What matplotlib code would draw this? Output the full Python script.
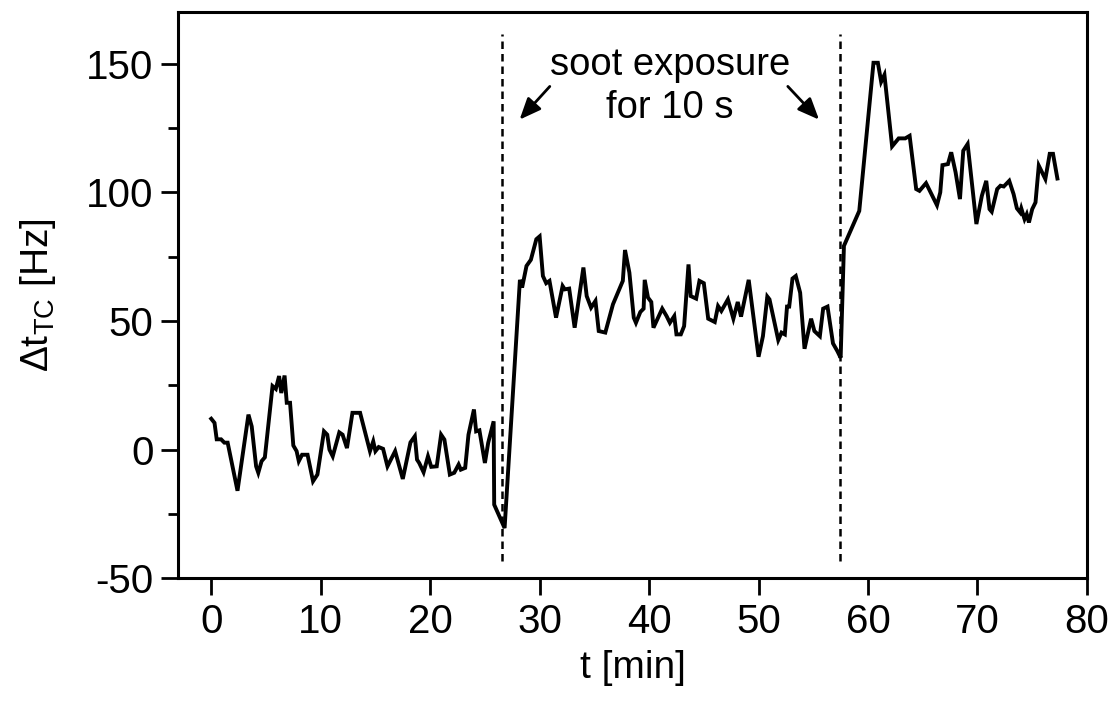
import matplotlib
matplotlib.use('Agg')
import matplotlib.pyplot as plt
from matplotlib.ticker import MultipleLocator

plt.rcParams['font.family'] = ['Liberation Sans', 'DejaVu Sans']
plt.rcParams['mathtext.fontset'] = 'custom'
plt.rcParams['mathtext.rm'] = 'Liberation Sans'
plt.rcParams['mathtext.it'] = 'Liberation Sans'
plt.rcParams['axes.unicode_minus'] = False

# time [min] and frequency shift [Hz]
t_min = [0.0, 0.3, 0.5, 0.9, 1.2, 1.5, 2.4, 3.4, 3.7, 4.1, 4.3, 4.6, 4.9,
         5.6, 5.9, 6.2, 6.4, 6.7, 6.9, 7.2, 7.5, 7.8, 8.0, 8.3, 8.8, 9.3,
         9.7, 10.3, 10.6, 10.8, 11.1, 11.7, 12.0, 12.4, 12.9, 13.6, 14.5,
         14.8, 15.0, 15.3, 15.7, 16.1, 16.8, 17.5, 18.2, 18.6, 18.8, 19.0,
         19.4, 19.8, 20.1, 20.6, 21.0, 21.3, 21.8, 22.2, 22.6, 22.8, 23.2,
         23.5, 24.0, 24.2, 24.5, 25.0, 25.3, 25.8, 25.85, 26.8, 28.2, 28.4,
         28.8, 29.2, 29.7, 30.0, 30.3, 30.6, 30.9, 31.5, 32.1, 32.3, 32.7,
         33.2, 34.0, 34.3, 34.7, 35.1, 35.4, 36.0, 36.7, 37.6, 37.8, 38.2,
         38.6, 38.8, 39.2, 39.5, 39.6, 39.9, 40.2, 40.4, 41.2, 41.6, 41.9,
         42.3, 42.5, 42.9, 43.2, 43.6, 43.8, 44.3, 44.6, 45.0, 45.4, 46.0,
         46.3, 46.6, 47.2, 47.7, 48.1, 48.4, 49.1, 50.0, 50.4, 50.8, 51.0,
         51.8, 52.1, 52.4, 52.6, 52.8, 53.1, 53.4, 53.8, 54.2, 54.8, 55.1,
         55.6, 55.9, 56.3, 56.8, 57.2, 57.5, 57.8, 59.2, 60.5, 60.9, 61.2,
         61.5, 62.2, 62.8, 63.4, 63.8, 64.4, 64.7, 65.3, 66.3, 66.6, 66.8,
         67.3, 67.6, 68.0, 68.4, 68.7, 69.1, 69.9, 70.4, 70.8, 71.1, 71.3,
         71.8, 72.1, 72.4, 72.9, 73.3, 73.6, 73.9, 74.0, 74.3, 74.5, 74.7,
         75.0, 75.3, 75.6, 76.2, 76.6, 76.9, 77.3]
dt_tc = [12.0, 10.4, 4.0, 4.0, 2.7, 2.7, -16.0, 13.6, 9.0, -6.5, -9.0, -4.5,
         -3.0, 24.7, 23.6, 28.6, 22.0, 28.8, 18.2, 18.2, 1.6, -0.6, -4.5,
         -2.0, -2.0, -12.3, -9.7, 7.1, 5.8, 0.0, -2.6, 6.7, 5.8, 0.6, 14.3,
         14.3, -0.6, 3.2, -0.6, 1.0, 0.3, -6.5, -0.6, -11.4, 2.8, 5.2, -3.9,
         -5.2, -8.8, -2.6, -6.7, -6.5, 5.8, 3.9, -9.7, -9.0, -5.8, -7.8,
         -7.1, 5.8, 15.6, 7.1, 7.5, -5.2, 2.6, 11.0, -21.4, -30.5, 66.0,
         63.0, 71.4, 73.8, 81.8, 82.9, 67.5, 64.7, 65.6, 51.3, 63.6, 62.3,
         62.6, 47.4, 70.8, 59.7, 55.2, 57.8, 46.1, 45.5, 56.5, 65.6, 77.6,
         68.8, 51.3, 49.3, 53.5, 54.8, 66.0, 59.1, 57.4, 47.4, 54.8, 51.9,
         49.3, 51.9, 44.8, 44.8, 48.0, 72.0, 59.7, 58.7, 65.6, 64.7, 50.9,
         49.6, 55.8, 53.9, 58.4, 50.9, 57.4, 51.7, 66.0, 36.1, 44.1, 59.5,
         58.4, 42.6, 45.5, 44.8, 55.6, 55.6, 66.5, 67.5, 61.0, 39.2, 50.9,
         46.1, 44.1, 54.8, 55.6, 41.3, 38.3, 35.7, 79.2, 92.8, 150.4, 150.4,
         143.0, 145.7, 117.9, 121.0, 121.0, 122.0, 101.3, 100.6, 103.6, 95.0,
         100.0, 110.6, 111.0, 115.6, 107.8, 97.4, 116.2, 118.8, 87.7, 98.7,
         104.5, 93.5, 92.5, 101.3, 102.6, 102.3, 104.5, 99.3, 93.8, 92.2,
         93.8, 89.6, 91.5, 88.3, 93.5, 96.1, 110.4, 105.2, 115.0, 115.0,
         105.4]
exposure_t = [26.6, 57.4]

fig = plt.figure(figsize=(11.08, 7.06), dpi=100)
ax = fig.add_axes([0.161, 0.181, 0.820, 0.8015])

ax.plot(t_min, dt_tc, color='black', lw=2.8, solid_joinstyle='miter')
for xv in exposure_t:
    ax.plot([xv, xv], [-43.5, 161.5], color='black', lw=1.8, ls=(0, (3, 2)))

ax.text(41.9, 141.0, 'soot exposure\nfor 10 s', ha='center', va='center',
        fontsize=27.5, linespacing=1.25)
arrow = dict(arrowstyle='-|>,head_length=1.3,head_width=0.55', color='black', lw=2.0)
ax.annotate('', xy=(28.0, 127.5), xytext=(31.1, 142.0), arrowprops=arrow)
ax.annotate('', xy=(55.7, 127.5), xytext=(52.5, 142.0), arrowprops=arrow)

ax.set_xlim(-3, 80)
ax.set_ylim(-50, 170)
ax.xaxis.set_major_locator(MultipleLocator(10))
ax.yaxis.set_major_locator(MultipleLocator(50))
ax.yaxis.set_minor_locator(MultipleLocator(25))
ax.tick_params(axis='both', which='major', direction='out', length=12,
               width=2.0, labelsize=29, pad=6)
ax.tick_params(axis='y', which='minor', direction='out', length=7, width=2.0)
for s in ax.spines.values():
    s.set_linewidth(2.2)

ax.set_xlabel('t [min]', fontsize=28, labelpad=6)
ax.set_ylabel(r'$\Delta$t$_{\mathrm{TC}}$ [Hz]', fontsize=28, labelpad=20)

fig.savefig('out.png', dpi=100)
